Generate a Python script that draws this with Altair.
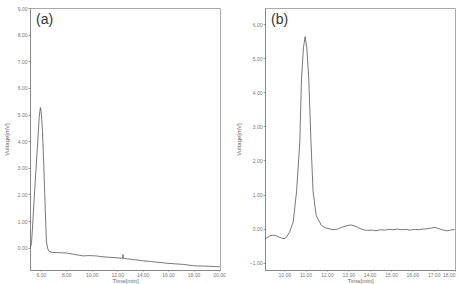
import altair as alt
import pandas as pd

# Panel (a) chromatogram
a_time = [5.15, 5.22, 5.27, 5.34, 5.45, 5.6, 5.75, 5.87, 5.97, 6.03, 6.13, 6.24, 6.34, 6.44, 6.55, 6.65, 6.9,
          7.5, 8.0, 8.6, 9.3, 9.8, 10.3, 10.8, 11.3, 12.0, 12.44, 12.46, 12.48, 12.8, 13.3, 14.0, 14.6,
          15.2, 16.0, 16.6, 17.2, 18.0, 18.6, 19.2, 19.7, 20.05]
a_volt = [0.02, 0.05, 0.2, 0.7, 1.6, 2.8, 3.9, 4.9, 5.26, 5.1, 4.4, 3.0, 1.57, 0.23, -0.05, -0.14, -0.18,
          -0.19, -0.2, -0.25, -0.31, -0.3, -0.31, -0.34, -0.36, -0.38, -0.4, -0.26, -0.4, -0.42, -0.45, -0.49, -0.52,
          -0.55, -0.59, -0.61, -0.63, -0.68, -0.69, -0.7, -0.71, -0.72]

# Panel (b) chromatogram
b_time = [9.1, 9.2, 9.3, 9.45, 9.6, 9.8, 10.0, 10.1, 10.25, 10.42, 10.58, 10.73, 10.81, 10.9, 10.98, 11.06,
          11.15, 11.25, 11.35, 11.5, 11.74, 11.9, 12.1, 12.3, 12.5, 12.7, 12.9, 13.1, 13.3, 13.5, 13.7, 13.9,
          14.1, 14.3, 14.5, 14.7, 14.9, 15.1, 15.3, 15.5, 15.7, 15.9, 16.1, 16.3, 16.5, 16.7, 16.9, 17.05,
          17.2, 17.4, 17.6, 17.8, 17.98]
b_volt = [-0.3, -0.26, -0.22, -0.19, -0.2, -0.26, -0.29, -0.25, -0.1, 0.19, 1.1, 2.54, 4.4, 5.3, 5.63, 5.3,
          4.4, 2.6, 1.1, 0.38, 0.1, 0.03, 0.0, -0.03, -0.01, 0.04, 0.08, 0.11, 0.08, 0.02, -0.03, -0.05,
          -0.04, -0.06, -0.03, -0.04, -0.02, -0.03, -0.01, -0.03, -0.02, -0.04, -0.02, -0.03, -0.01, 0.0, 0.02, 0.04,
          0.01, -0.03, -0.06, -0.04, -0.02]

a_xticks = [6, 8, 10, 12, 14, 16, 18, 20]
a_yticks = [0, 1, 2, 3, 4, 5, 6, 7, 8, 9]
b_xticks = [10, 11, 12, 13, 14, 15, 16, 17, 18]
b_yticks = [-1, 0, 1, 2, 3, 4, 5, 6]

FONT = "Liberation Sans"


def panel(times, volts, xdom, ydom, xticks, yticks, label):
    df = pd.DataFrame({"t": times, "v": volts})
    xax = alt.Axis(values=xticks, format=".2f", title="Time[min]", labelFontSize=5, titleFontSize=6,
                   labelColor="#777", titleColor="#666", titleFontWeight="normal", labelPadding=1,
                   titlePadding=0, tickSize=1, tickColor="#999", domainColor="#888", grid=False,
                   labelFont=FONT, titleFont=FONT)
    yax = alt.Axis(values=yticks, format=".2f", title="Voltage[mV]", labelFontSize=5, titleFontSize=6,
                   labelColor="#777", titleColor="#666", titleFontWeight="normal", labelPadding=1,
                   titlePadding=8, tickSize=2, tickColor="#999", domainColor="#888", grid=False,
                   labelFont=FONT, titleFont=FONT)
    line = alt.Chart(df).mark_line(color="#555", strokeWidth=0.8, clip=True).encode(
        x=alt.X("t:Q", scale=alt.Scale(domain=xdom, nice=False, zero=False), axis=xax),
        y=alt.Y("v:Q", scale=alt.Scale(domain=ydom, nice=False, zero=False), axis=yax),
    )
    txt = alt.Chart(pd.DataFrame({"l": [label]})).mark_text(
        align="left", baseline="middle", fontSize=14, color="#333", font=FONT
    ).encode(x=alt.value(6), y=alt.value(12), text="l:N")
    return alt.layer(line, txt).properties(width=190, height=262)


pa = panel(a_time, a_volt, [5.15, 20.08], [-0.84, 9.0], a_xticks, a_yticks, "(a)")
pb = panel(b_time, b_volt, [9.1, 18.0], [-1.21, 6.47], b_xticks, b_yticks, "(b)")

chart = alt.hconcat(pa, pb, spacing=8).properties(
    padding={"left": 2, "top": 5, "right": 4, "bottom": 0}
).configure_view(stroke="#aaa", strokeWidth=1)

chart.save("out.html", embed_options={"renderer": "svg", "actions": False})
